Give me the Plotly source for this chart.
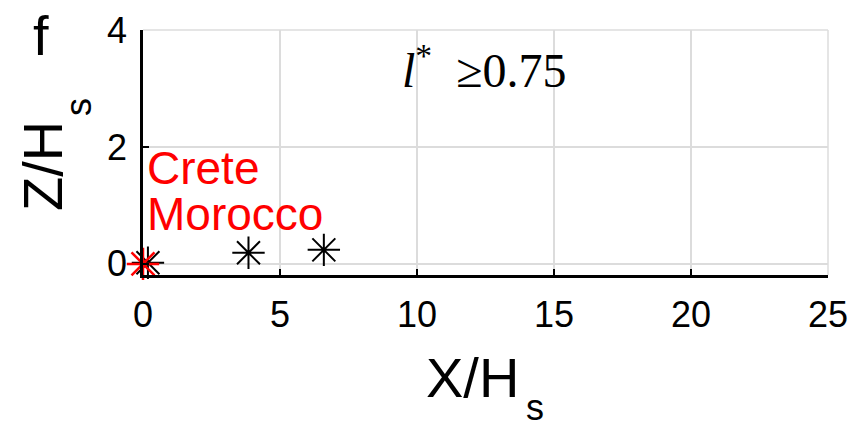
import plotly.graph_objects as go

black_x = [0.18, 3.85, 6.6]
black_y = [0.02, 0.19, 0.24]
red_x = [0.0]
red_y = [0.0]
x_ticks = [0, 5, 10, 15, 20, 25]
y_ticks = [0, 2, 4]
site_labels = ["Crete", "Morocco"]

L, R, T, B = 143, 828, 30, 275
W, H = 859, 428
pw, ph = R - L, B - T

def px(xp):
    return (xp - L) / pw

def py(yp):
    return (B - yp) / ph

fig = go.Figure()
fig.add_trace(go.Scatter(x=black_x, y=black_y, mode="markers",
                         marker=dict(symbol="asterisk-open", size=27, color="black",
                                     line=dict(color="black", width=2)),
                         showlegend=False, cliponaxis=False))
fig.add_trace(go.Scatter(x=red_x, y=red_y, mode="markers",
                         marker=dict(symbol="asterisk-open", size=27, color="red",
                                     line=dict(color="red", width=2.5)),
                         showlegend=False, cliponaxis=False))

axis_common = dict(showgrid=True, gridcolor="#dcdcdc", gridwidth=1.5, zeroline=False,
                   showline=True, linecolor="black", linewidth=2.5,
                   ticks="inside", ticklen=6, tickwidth=2, tickcolor="black",
                   automargin=False,
                   tickfont=dict(family="Liberation Sans, Arial", size=36, color="black"))

fig.update_xaxes(range=[0, 25], tickvals=x_ticks, ticklabelstandoff=6, **axis_common)
fig.update_yaxes(range=[-0.19, 4], tickvals=y_ticks, ticklabelstandoff=6, **axis_common)

# gray top/right box lines
fig.add_shape(type="line", xref="paper", yref="paper", x0=0, x1=1, y0=1, y1=1,
              line=dict(color="#dcdcdc", width=1.5))
fig.add_shape(type="line", xref="paper", yref="paper", x0=1, x1=1, y0=0, y1=1,
              line=dict(color="#dcdcdc", width=1.5))

sans = "Liberation Sans, Arial"
fig.add_annotation(x=px(145), y=py(168), xref="paper", yref="paper", text=site_labels[0],
                   showarrow=False, xanchor="left", yanchor="middle",
                   font=dict(family=sans, size=46, color="red"))
fig.add_annotation(x=px(145), y=py(214), xref="paper", yref="paper", text=site_labels[1],
                   showarrow=False, xanchor="left", yanchor="middle",
                   font=dict(family=sans, size=46, color="red"))

fig.add_annotation(x=px(484), y=py(67), xref="paper", yref="paper",
                   text="<i>l</i><sup>*</sup>  ≥0.75",
                   showarrow=False, xanchor="center", yanchor="middle",
                   font=dict(family="Liberation Serif, Times New Roman", size=48, color="black"))

# Axis titles (with subscript as separate text to match placement)
fig.add_annotation(x=px(472), y=py(377), xref="paper", yref="paper",
                   text="X/H", showarrow=False, xanchor="center", yanchor="middle",
                   font=dict(family=sans, size=56, color="black"))
fig.add_annotation(x=px(535), y=py(408), xref="paper", yref="paper",
                   text="s", showarrow=False, xanchor="center", yanchor="middle",
                   font=dict(family=sans, size=36, color="black"))
fig.add_annotation(x=px(42), y=py(166), xref="paper", yref="paper",
                   text="Z/H", showarrow=False, textangle=-90,
                   xanchor="center", yanchor="middle",
                   font=dict(family=sans, size=56, color="black"))
fig.add_annotation(x=px(78), y=py(107), xref="paper", yref="paper",
                   text="s", showarrow=False, textangle=-90,
                   xanchor="center", yanchor="middle",
                   font=dict(family=sans, size=36, color="black"))
fig.add_annotation(x=px(41), y=py(36), xref="paper", yref="paper",
                   text="f", showarrow=False, xanchor="center", yanchor="middle",
                   font=dict(family=sans, size=56, color="black"))

fig.update_layout(
    width=W, height=H,
    margin=dict(l=L, r=W - R, t=T, b=H - B),
    paper_bgcolor="white", plot_bgcolor="white",
)

fig.write_html("out.html", config={"displayModeBar": False},
               post_script="document.body.style.margin='0';document.body.style.padding='0';document.body.style.overflow='hidden';")
